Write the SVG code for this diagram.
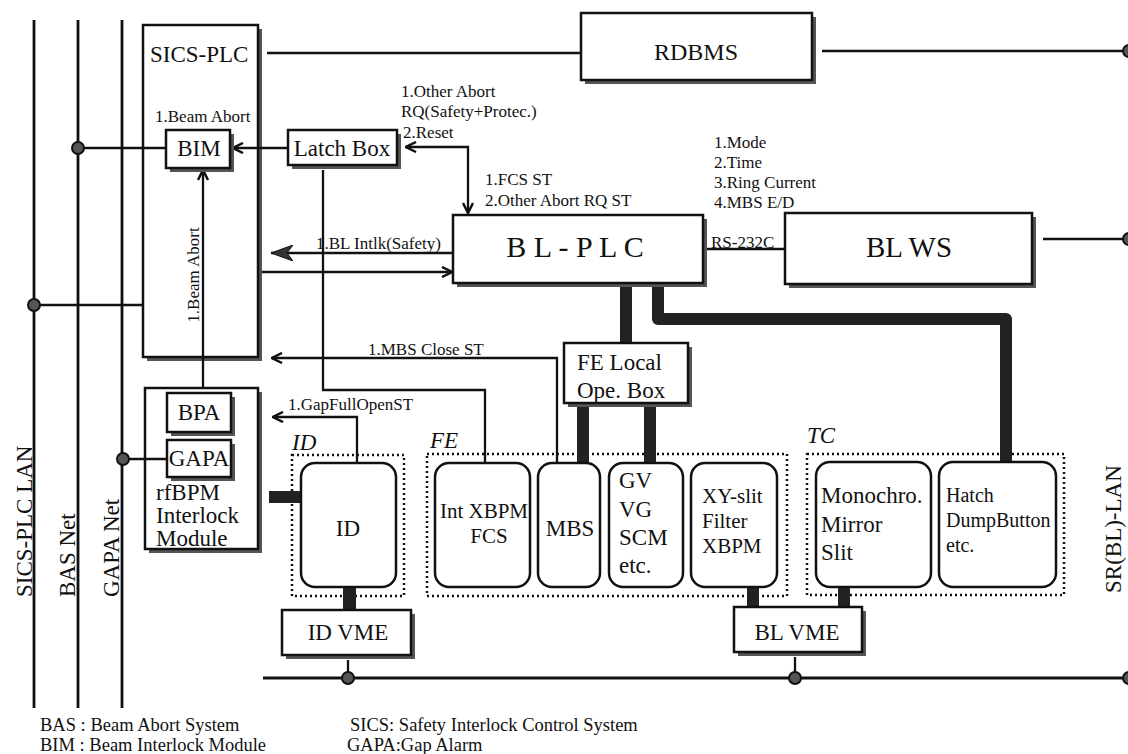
<svg xmlns="http://www.w3.org/2000/svg" width="1128" height="754" viewBox="0 0 1128 754">
<style>
text{font-family:"Liberation Serif","Times New Roman",serif;fill:#111}
.box{fill:#fff;stroke:#111;stroke-width:2.5}
.sh{fill:#555}
.rn{fill:#fff;stroke:#111;stroke-width:2.5}
.grp{fill:none;stroke:#111;stroke-width:2.5;stroke-dasharray:2 3}
.ln{fill:none;stroke:#111;stroke-width:2.3}
.net{fill:none;stroke:#111;stroke-width:2.8}
.bar{fill:#222}
.dot{fill:#555;stroke:#111;stroke-width:2}
.s{font-size:17px}
.m{font-size:23px}
.it{font-size:23px;font-style:italic}
.lg{font-size:18.5px}
.c{text-anchor:middle}
</style>
<defs>
<marker id="ao" viewBox="0 0 12 12" refX="11" refY="6" markerWidth="12" markerHeight="12" markerUnits="userSpaceOnUse" orient="auto-start-reverse">
<path d="M1,1 L11,6 L1,11" fill="none" stroke="#111" stroke-width="2.5"/>
</marker>
<marker id="af" viewBox="0 0 24 16" refX="22" refY="8" markerWidth="24" markerHeight="16" markerUnits="userSpaceOnUse" orient="auto">
<path d="M22,8 L0,0 L6,8 L0,16 Z" fill="#333" stroke="#111" stroke-width="1"/>
</marker>
</defs>

<g id="sics-plc">
<rect class="sh" x="147" y="29" width="115" height="332"/>
<rect class="box" x="143" y="25" width="115" height="332"/>
<text class="m" x="150" y="62">SICS-PLC</text>
</g>
<g id="rfbpm">
<rect class="sh" x="149" y="392" width="113" height="161"/>
<rect class="box" x="145" y="388" width="113" height="161"/>
<text class="m" x="156" y="500">rfBPM</text>
<text class="m" x="156" y="523">Interlock</text>
<text class="m" x="156" y="546">Module</text>
</g>
<g id="id-group">
<rect class="grp" x="292" y="455" width="112" height="141"/>
<text class="it" x="292" y="450">ID</text>
</g>
<g id="fe-group">
<rect class="grp" x="427" y="454" width="360" height="142"/>
<text class="it" x="430" y="448">FE</text>
</g>
<g id="tc-group">
<rect class="grp" x="807" y="454" width="257" height="141"/>
<text class="it" x="807" y="443">TC</text>
</g>

<g id="connectors">
<path class="net" d="M34,20 V708 M78,20 V708 M122,20 V708"/>
<path class="ln" d="M78,148 H166 M34,305 H143 M122,459 H167"/>
<path class="ln" d="M267,53 H581 M822,51 H1128 M1043,239 H1128"/>
<path class="net" d="M263,678 H1128"/>
<path class="ln" d="M348,660 V678 M795,657 V678"/>
<path class="ln" d="M707,249 H785"/>
<path class="ln" d="M288,148 H233" marker-end="url(#ao)"/>
<path class="ln" d="M203,388 V170" marker-end="url(#ao)"/>
<path class="ln" d="M406,147 H468 V213" marker-start="url(#ao)" marker-end="url(#ao)"/>
<path class="ln" d="M323,170 V390 H485 V463"/>
<path class="ln" d="M453,253 H271" marker-end="url(#af)"/>
<path class="ln" d="M262,272 H452" marker-end="url(#ao)"/>
<path class="ln" d="M557,463 V358 H272" marker-end="url(#ao)"/>
<path class="ln" d="M357,463 V417 H273" marker-end="url(#ao)"/>
<rect class="bar" x="269" y="491" width="32" height="12"/>
<rect class="bar" x="343" y="587" width="13" height="23"/>
<rect class="bar" x="620" y="287" width="12" height="56"/>
<rect class="bar" x="577" y="407" width="12" height="56"/>
<rect class="bar" x="644" y="407" width="12" height="56"/>
<rect class="bar" x="747" y="587" width="12" height="20"/>
<rect class="bar" x="838" y="587" width="12" height="20"/>
<path d="M658,287 V319 H1006 V462" fill="none" stroke="#222" stroke-width="12" stroke-linejoin="round"/>
<circle class="dot" cx="78" cy="148" r="6"/>
<circle class="dot" cx="34" cy="305" r="6"/>
<circle class="dot" cx="123" cy="459" r="6"/>
<circle class="dot" cx="348" cy="678" r="6"/>
<circle class="dot" cx="795" cy="678" r="6"/>
<circle class="dot" cx="1129" cy="51" r="6"/>
<circle class="dot" cx="1129" cy="239" r="6"/>
<circle class="dot" cx="1129" cy="678" r="6"/>
<text class="s" x="155" y="122">1.Beam Abort</text>
<text class="s c" transform="translate(199,275) rotate(-90)">1.Beam Abort</text>
<text class="s" x="401" y="97">1.Other Abort</text>
<text class="s" x="401" y="117">RQ(Safety+Protec.)</text>
<text class="s" x="403" y="138">2.Reset</text>
<text class="s" x="485" y="185">1.FCS ST</text>
<text class="s" x="485" y="206">2.Other Abort RQ ST</text>
<text class="s" x="714" y="148">1.Mode</text>
<text class="s" x="714" y="168">2.Time</text>
<text class="s" x="714" y="188">3.Ring Current</text>
<text class="s" x="714" y="208">4.MBS E/D</text>
<text class="s" x="711" y="248">RS-232C</text>
<text class="s" x="316" y="249">1.BL Intlk(Safety)</text>
<text class="s" x="368" y="355">1.MBS Close ST</text>
<text class="s" x="288" y="410">1.GapFullOpenST</text>
</g>

<g id="net-labels">
<text class="m" transform="translate(32,597) rotate(-90)">SICS-PLC LAN</text>
<text class="m" transform="translate(75,597) rotate(-90)">BAS Net</text>
<text class="m" transform="translate(119,597) rotate(-90)">GAPA Net</text>
<text class="m" transform="translate(1121,593) rotate(-90)">SR(BL)-LAN</text>
</g>

<g id="bim">
<rect class="sh" x="170" y="134" width="64" height="38"/>
<rect class="box" x="166" y="130" width="64" height="38"/>
<text class="m c" x="199" y="156">BIM</text>
</g>
<g id="latch-box">
<rect class="sh" x="292" y="134" width="109" height="35"/>
<rect class="box" x="288" y="130" width="109" height="35"/>
<text class="m c" x="342" y="156">Latch Box</text>
</g>
<g id="rdbms">
<rect class="sh" x="585" y="17" width="231" height="67"/>
<rect class="box" x="581" y="13" width="231" height="67"/>
<text class="c" x="696" y="60" font-size="24">RDBMS</text>
</g>
<g id="bl-plc">
<rect class="sh" x="457" y="219" width="250" height="68"/>
<rect class="box" x="453" y="215" width="250" height="68"/>
<text class="c" x="575" y="257" font-size="30">B L - P L C</text>
</g>
<g id="bl-ws">
<rect class="sh" x="789" y="217" width="247" height="71"/>
<rect class="box" x="785" y="213" width="247" height="71"/>
<text class="c" x="909" y="257" font-size="29">BL WS</text>
</g>
<g id="bpa">
<rect class="sh" x="171" y="397" width="64" height="39"/>
<rect class="box" x="167" y="393" width="64" height="39"/>
<text class="m c" x="199" y="420">BPA</text>
</g>
<g id="gapa">
<rect class="sh" x="171" y="444" width="64" height="37"/>
<rect class="box" x="167" y="440" width="64" height="37"/>
<text class="m c" x="199" y="466">GAPA</text>
</g>
<g id="fe-local">
<rect class="sh" x="568" y="347" width="124" height="60"/>
<rect class="box" x="564" y="343" width="124" height="60"/>
<text class="m" x="577" y="370">FE Local</text>
<text class="m" x="577" y="398">Ope. Box</text>
</g>
<g id="id">
<rect class="rn" x="301" y="463" width="95" height="124" rx="14"/>
<text class="m c" x="348" y="536">ID</text>
</g>
<g id="id-vme">
<rect class="sh" x="286" y="614" width="129" height="45"/>
<rect class="box" x="282" y="610" width="129" height="45"/>
<text class="m c" x="348" y="640">ID VME</text>
</g>
<g id="int-xbpm">
<rect class="rn" x="435" y="463" width="95" height="124" rx="14"/>
<text class="c" x="484" y="518" font-size="21">Int XBPM</text>
<text class="c" x="489" y="543" font-size="21">FCS</text>
</g>
<g id="mbs">
<rect class="rn" x="538" y="463" width="62" height="124" rx="14"/>
<text class="m c" x="570" y="536">MBS</text>
</g>
<g id="gv">
<rect class="rn" x="609" y="463" width="74" height="124" rx="14"/>
<text class="m" x="619" y="488">GV</text>
<text class="m" x="619" y="517">VG</text>
<text class="m" x="619" y="545">SCM</text>
<text class="m" x="619" y="573">etc.</text>
</g>
<g id="xy-slit">
<rect class="rn" x="691" y="463" width="86" height="124" rx="14"/>
<text x="702" y="503" font-size="21">XY-slit</text>
<text x="702" y="528" font-size="21">Filter</text>
<text x="702" y="553" font-size="21">XBPM</text>
</g>
<g id="monochro">
<rect class="rn" x="816" y="462" width="115" height="125" rx="14"/>
<text class="m" x="821" y="503">Monochro.</text>
<text class="m" x="821" y="532">Mirror</text>
<text class="m" x="821" y="560">Slit</text>
</g>
<g id="hatch">
<rect class="rn" x="939" y="462" width="117" height="125" rx="14"/>
<text x="946" y="502" font-size="20">Hatch</text>
<text x="946" y="527" font-size="20">DumpButton</text>
<text x="946" y="552" font-size="20">etc.</text>
</g>
<g id="bl-vme">
<rect class="sh" x="738" y="611" width="128" height="45"/>
<rect class="box" x="734" y="607" width="128" height="45"/>
<text class="m c" x="797" y="640">BL VME</text>
</g>

<g id="legend">
<text class="lg" x="40" y="731">BAS : Beam Abort System</text>
<text class="lg" x="40" y="751">BIM : Beam Interlock Module</text>
<text class="lg" x="350" y="731">SICS: Safety Interlock Control System</text>
<text class="lg" x="347" y="751">GAPA:Gap Alarm</text>
</g>
</svg>
